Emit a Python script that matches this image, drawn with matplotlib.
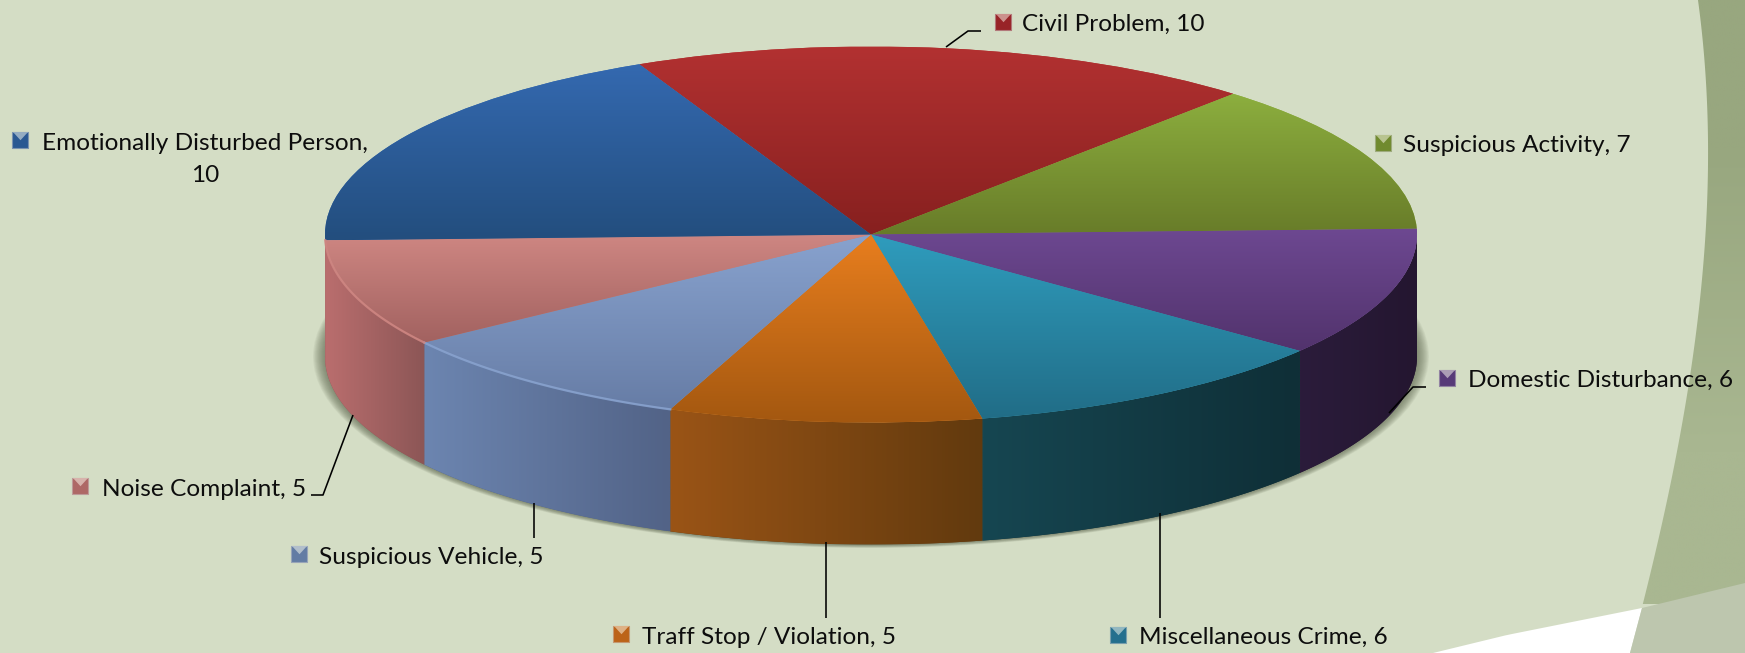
import numpy as np
import matplotlib
matplotlib.use("Agg")
import matplotlib.pyplot as plt
from matplotlib.patches import Polygon, Ellipse
from matplotlib.colors import to_rgb

categories = ["Civil Problem", "Suspicious Activity", "Domestic Disturbance", "Miscellaneous Crime",
              "Traff Stop / Violation", "Suspicious Vehicle", "Noise Complaint", "Emotionally Disturbed Person"]
values = [10, 7, 6, 6, 5, 5, 5, 10]

top_light = ["#B23131", "#8CAE3E", "#6D4891", "#2F9CBD", "#E87E1E", "#88A2CE", "#CE8682", "#3469B0"]
top_dark = ["#87201F", "#687C29", "#52336D", "#216D87", "#A45810", "#677DA6", "#A26260", "#234E7E"]
side_light = ["#000000", "#000000", "#2B1C3B", "#164651", "#9A5416", "#6C85B0", "#BA6E6E", "#BC6F6F"]
side_dark = ["#000000", "#000000", "#241630", "#0F2F37", "#623A0E", "#526387", "#8C5656", "#B06A6A"]
marker_col = ["#982327", "#708A2E", "#573A78", "#246F8E", "#BC6318", "#637CA4", "#AE6866", "#2A5892"]

W, H = 1745, 653
cx, cy, a, b, depth = 871, 234.5, 546, 188, 122
d = depth / b
START = 115.1
FS = 17.6

fig = plt.figure(figsize=(W / 100, H / 100), dpi=100)

# background, in pixel coordinates
bg = fig.add_axes([0, 0, 1, 1], zorder=0)
bg.set_xlim(0, W); bg.set_ylim(H, 0); bg.axis("off")
bg.add_patch(Polygon([(0, 0), (W, 0), (W, H), (0, H)], fc="#D4DDC5", ec="none"))
yy = np.linspace(0, H, 120)
swoosh_x = np.polyval(np.polyfit([0, 147, 300, 500, 608, 653], [1698, 1708, 1700, 1667, 1642, 1630], 4), yy)
outline = np.r_[np.c_[swoosh_x, yy], [(W, H), (W, 0)]]
grad = np.array([to_rgb("#98A77F"), to_rgb("#A9B791")])[:, None, :]
gi = bg.imshow(grad, extent=(1600, W, 604, 0), aspect="auto", interpolation="bilinear", zorder=1)
clip = Polygon(outline, transform=bg.transData, fc="none", ec="none")
bg.add_patch(clip); gi.set_clip_path(clip)
bx = np.linspace(1433, 1642, 30)
by = np.interp(bx, [1433, 1507, 1567, 1642], [653, 635, 623, 608])
bg.add_patch(Polygon(np.r_[np.c_[bx, by], [(1630, H)]], fc="white", ec="none", zorder=2))
bg.add_patch(Polygon([(1642, 608), (W, 583), (W, H), (1630, H)], fc="#BDC6AE", ec="none", zorder=2))
bg.set_xlim(0, W); bg.set_ylim(H, 0)

# pie axes: the unit circle lands on the top ellipse
ax = fig.add_axes([0, 0, 1, 1], zorder=1)
ax.patch.set_alpha(0)
lims = ((0 - cx) / a, (W - cx) / a), ((cy - H) / b, cy / b)

for i in range(14):
    f = i / 13
    ax.add_patch(Ellipse((0, -d), 2 * (1 + (12 - 12 * f) / a), 2 * (1 + (3.5 - 3.5 * f) / b),
                         fc="#59614A", ec="none", alpha=0.065, zorder=1))

wedges, _ = ax.pie(values, startangle=START, counterclock=False, radius=1, colors=top_light)
for i, w in enumerate(wedges):
    w.set_zorder(4)
    w.set_edgecolor("none")
    th = np.radians(np.linspace(w.theta1, w.theta2, 200))
    xs, ys = np.r_[0, np.cos(th)], np.r_[0, np.sin(th)]
    g = np.linspace(to_rgb(top_light[i]), to_rgb(top_dark[i]), 64)[:, None, :]
    im = ax.imshow(g, extent=(xs.min(), xs.max(), ys.min(), ys.max()), aspect="auto",
                   interpolation="bilinear", zorder=5)
    im.set_clip_path(w)
    # wall below the front arc
    lo, hi = w.theta1 % 360, w.theta1 % 360 + (w.theta2 - w.theta1)
    for shift in (0, 360, -360):
        s, e = max(lo + shift, 180), min(hi + shift, 360)
        if e > s:
            tt = np.radians(np.linspace(s, e, 120))
            px, py = np.cos(tt), np.sin(tt)
            poly = Polygon(np.r_[np.c_[px, py], np.c_[px, py - d][::-1]], fc=side_dark[i], ec="none", zorder=2)
            ax.add_patch(poly)
            sg = np.linspace(to_rgb(side_light[i]), to_rgb(side_dark[i]), 64)[None, :, :]
            si = ax.imshow(sg, extent=(px.min(), px.max(), (py - d).min(), py.max()), aspect="auto",
                           interpolation="bilinear", zorder=3)
            si.set_clip_path(poly)
            if i in (5, 6):
                ax.plot(px, py, color=top_light[i], lw=1.6, alpha=0.9, zorder=6)
ax.set_xlim(*lims[0]); ax.set_ylim(*lims[1]); ax.axis("off")

# foreground: leaders, markers, labels, in pixel coordinates
fg = fig.add_axes([0, 0, 1, 1], zorder=2)
fg.patch.set_alpha(0); fg.set_xlim(0, W); fg.set_ylim(H, 0); fg.axis("off")

leaders = [[(946, 47), (968, 31), (981, 31)], None, [(1389, 413), (1413, 387), (1426, 387)],
           [(1160, 513), (1160, 618)], [(826, 542), (826, 618)], [(534, 503), (534, 538)],
           [(353, 415), (323, 495), (311, 495)], None]
marker_xy = [(1003, 22), (1383, 143), (1447, 378), (1118, 635), (621, 634), (299, 554), (80, 486), (20, 140)]
label_xy = [(1022, 24), (1403, 145), (1468, 380), (1139.5, 637), (642, 637), (319.5, 557), (102, 489), (41, 144)]
tri = [(-0.55, 0.62), (0.55, 0.62), (0, 0.02), (-0.55, 0.62)]

for pts in leaders:
    if pts:
        fg.plot(*zip(*pts), color="black", lw=1.15, solid_capstyle="butt", zorder=3)

for i, (cat, v) in enumerate(zip(categories, values)):
    mx, my = marker_xy[i]
    base = np.array(to_rgb(marker_col[i]))
    fg.scatter([mx], [my], marker="s", s=120, color=base, edgecolors=base * 0.5 + 0.4,
               linewidths=0.8, zorder=4)
    fg.scatter([mx], [my], marker=tri, s=150, color=base * 0.5 + 0.5 * np.array([1, 1, 0.95]),
               linewidths=0, zorder=5)
    tx, ty = label_xy[i]
    if i == 7:
        fg.text(205, 144, f"{cat},", family="Lato", fontsize=FS, color="#0D0D0D", ha="center", va="center", zorder=6)
        fg.text(205, 176, f"{v}", family="Lato", fontsize=FS, color="#0D0D0D", ha="center", va="center", zorder=6)
    else:
        fg.text(tx, ty, f"{cat}, {v}", family="Lato", fontsize=FS, color="#0D0D0D", ha="left", va="center", zorder=6)

fig.savefig("out.png", dpi=100)
